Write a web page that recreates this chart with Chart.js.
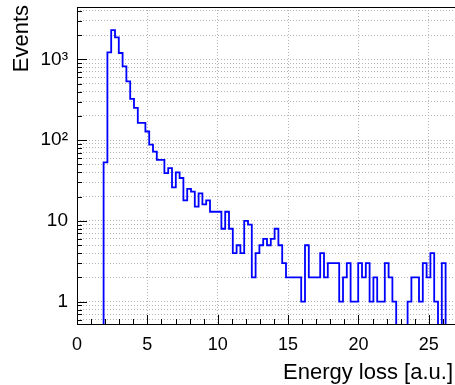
<!DOCTYPE html>
<html>
<head>
<meta charset="utf-8">
<script src="https://cdn.jsdelivr.net/npm/chart.js@4.4.0/dist/chart.umd.min.js"></script>
<style>
  html, body { margin: 0; padding: 0; background: #fff; overflow: hidden; }
</style>
</head>
<body>
<canvas id="histo" width="457" height="385"></canvas>
<script>
// histogram binning: 100 bins starting at 0, width 0.27
const binLow = 0;
const binWidth = 0.27;
const counts = [
    0, 0, 0, 0, 0, 0, 0, 53, 1220, 2300,
    1870, 1200, 820, 535, 324, 251, 164, 164, 128, 88,
    72, 57, 57, 39, 45, 26, 40, 34, 18, 25,
    23, 15, 22, 16, 18, 13, 13, 13, 8, 13,
    8, 4, 5, 4, 10, 9, 2, 4, 5, 6,
    5, 6, 8, 5, 3, 2, 2, 2, 2, 1,
    5, 2, 2, 2, 4, 2, 3, 3, 3, 1,
    2, 3, 1, 1, 3, 2, 3, 1, 2, 1,
    1, 3, 2, 1, 0, 0, 0, 1, 2, 2,
    1, 3, 2, 4, 1, 0, 3, 0, 0, 0
];
const xTickValues = [0, 5, 10, 15, 20, 25];
const yTickValues = [1, 10, 100, 1000];
const yTickLabels = ['1', '10', '10²', '10³'];
const xMax = 27;
const yMin = 0.515;
const yMax = 4450;
const xTitle = 'Energy loss [a.u.]';
const yTitle = 'Events';

// step points at bin left edges, empty bins sit on the frame bottom like ROOT does
const points = counts.map((c, i) => ({ x: binLow + i * binWidth, y: c > 0 ? c : yMin }));
points.push({ x: binLow + counts.length * binWidth, y: counts[counts.length - 1] || yMin });

const font = 'Liberation Sans, Arial, Helvetica, sans-serif';

function noPadding(scale) {
    scale.paddingTop = 0;
    scale.paddingBottom = 0;
    scale.paddingLeft = 0;
    scale.paddingRight = 0;
}

// frame, inward ticks and axis titles (ROOT style)
const rootFrame = {
    id: 'rootFrame',
    afterDatasetsDraw(chart) {
        const { ctx, chartArea: a, scales: { x, y } } = chart;
        ctx.save();
        ctx.strokeStyle = '#000';
        ctx.lineWidth = 1;
        ctx.beginPath();
        for (let v = 0; v <= xMax; v++) {
            const px = Math.round(x.getPixelForValue(v)) + 0.5;
            const len = v % 5 === 0 ? 10 : 6;
            ctx.moveTo(px, a.bottom);
            ctx.lineTo(px, a.bottom - len);
        }
        y.ticks.forEach(t => {
            const py = Math.round(y.getPixelForValue(t.value)) + 0.5;
            const len = yTickValues.includes(t.value) ? 10 : 5;
            ctx.moveTo(a.left, py);
            ctx.lineTo(a.left + len, py);
        });
        ctx.stroke();
        ctx.strokeRect(a.left + 0.5, a.top + 0.5, a.width, a.height - 1);

        ctx.fillStyle = '#000';
        ctx.font = '22px ' + font;
        ctx.textAlign = 'right';
        ctx.textBaseline = 'alphabetic';
        ctx.fillText(xTitle, 453, 379);

        ctx.translate(28, 5);
        ctx.rotate(-Math.PI / 2);
        ctx.textAlign = 'right';
        ctx.fillText(yTitle, 0, 0);
        ctx.restore();
    }
};

new Chart(document.getElementById('histo'), {
    type: 'line',
    data: {
        datasets: [{
            data: points,
            stepped: 'before',
            borderColor: '#0000ff',
            borderWidth: 1.8,
            pointRadius: 0,
            fill: false
        }]
    },
    options: {
        responsive: false,
        animation: false,
        layout: { padding: { top: 7, right: 0, left: 0, bottom: 0 } },
        plugins: {
            legend: { display: false },
            tooltip: { enabled: false }
        },
        scales: {
            x: {
                type: 'linear',
                min: 0,
                max: xMax,
                afterBuildTicks: (scale) => { scale.ticks = xTickValues.map(v => ({ value: v })); },
                afterFit: (scale) => { scale.height = 60; noPadding(scale); },
                grid: { color: '#b4b4b4', lineWidth: 1, drawTicks: false },
                border: { display: false, dash: [1, 2] },
                ticks: {
                    color: '#000',
                    font: { family: font, size: 18 },
                    padding: 9,
                    maxRotation: 0,
                    autoSkip: false,
                    callback: (v) => String(v)
                }
            },
            y: {
                type: 'logarithmic',
                min: yMin,
                max: yMax,
                bounds: 'data',
                afterBuildTicks: (scale) => {
                    const ticks = [];
                    for (let e = -1; e <= 3; e++) {
                        for (let m = 1; m <= 9; m++) {
                            const v = m * Math.pow(10, e);
                            if (v >= yMin && v <= yMax) ticks.push({ value: v });
                        }
                    }
                    scale.ticks = ticks;
                },
                afterFit: (scale) => { scale.width = 77; noPadding(scale); },
                grid: { color: '#b4b4b4', lineWidth: 1, drawTicks: false },
                border: { display: false, dash: [1, 2] },
                ticks: {
                    color: '#000',
                    font: { family: font, size: 19 },
                    padding: 9,
                    autoSkip: false,
                    callback: (v) => {
                        const i = yTickValues.indexOf(v);
                        return i >= 0 ? yTickLabels[i] : '';
                    }
                }
            }
        }
    },
    plugins: [rootFrame]
});
</script>
</body>
</html>
